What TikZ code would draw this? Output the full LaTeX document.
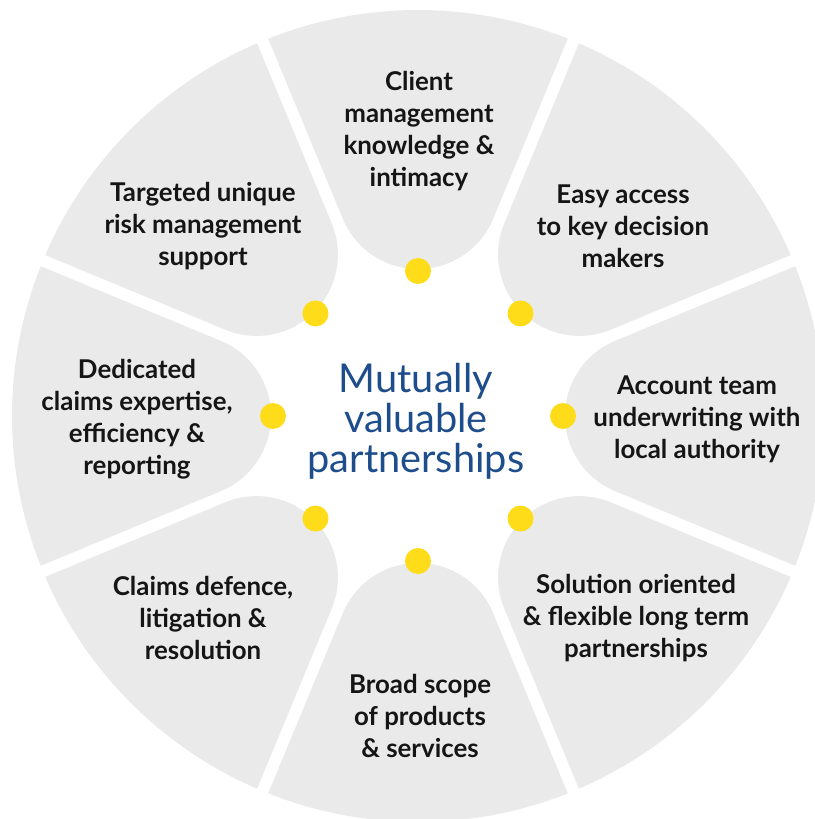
\documentclass[tikz,border=0pt]{standalone}
\usepackage{fontspec}
\newfontfamily\labfont{Lato}
\newfontfamily\ctrfont{Lato}
\definecolor{segfill}{HTML}{EAEAEA}
\definecolor{dotyellow}{HTML}{FFDC1A}
\definecolor{ctrblue}{HTML}{1E4D8C}
\definecolor{labtext}{HTML}{151515}
\begin{document}
\begin{tikzpicture}[x=0.75pt,y=0.75pt,
  seg/.style={fill=segfill},
  dot/.style={circle,fill=dotyellow,minimum size=19.5pt,inner sep=0pt},
  lab/.style={align=center,inner sep=0pt,font=\labfont\bfseries\fontsize{19.4}{24}\selectfont,text=labtext},
  ctr/.style={align=center,inner sep=0pt,font=\ctrfont\fontsize{29.8}{30}\selectfont,text=ctrblue}]
\useasboundingbox (-418,-403) rectangle (397,416);
% segments
\foreach \a in {90,45,0,-45,-90,-135,180,135}{
  \begin{scope}[rotate=\a]
    \path[seg] (-21.65:406) arc[start angle=-21.65,end angle=21.65,radius=406]
      -- (197.2,75.2) arc[start angle=112.5,end angle=247.5,radius=81.4] -- cycle;
  \end{scope}
}
% dots
\node[dot] (d1) at (90:145) {};
\node[dot] (d2) at (45:145) {};
\node[dot] (d3) at (0:145) {};
\node[dot] (d4) at (-45:145) {};
\node[dot] (d5) at (-90:145) {};
\node[dot] (d6) at (-135:145) {};
\node[dot] (d7) at (180:145) {};
\node[dot] (d8) at (135:145) {};
% centre
\node[ctr] (centre) at (-2,-5) {Mutually\\valuable\\partnerships};
% labels
\node[lab] (l1) at (1,285) {Client\\management\\knowledge \&\\intimacy};
\node[lab] (l2) at (205,190) {Easy access\\to key decision\\makers};
\node[lab] (l3) at (279,-3) {Account team\\underwriting with\\local authority};
\node[lab] (l4) at (218,-202) {Solution oriented\\\& flexible long term\\partnerships};
\node[lab] (l5) at (2,-300) {Broad scope\\of products\\\& services};
\node[lab] (l6) at (-215,-202) {Claims defence,\\litigation \&\\resolution};
\node[lab] (l7) at (-281,-3) {Dedicated\\claims expertise,\\efficiency \&\\reporting};
\node[lab] (l8) at (-215,190) {Targeted unique\\risk management\\support};
\end{tikzpicture}
\end{document}
